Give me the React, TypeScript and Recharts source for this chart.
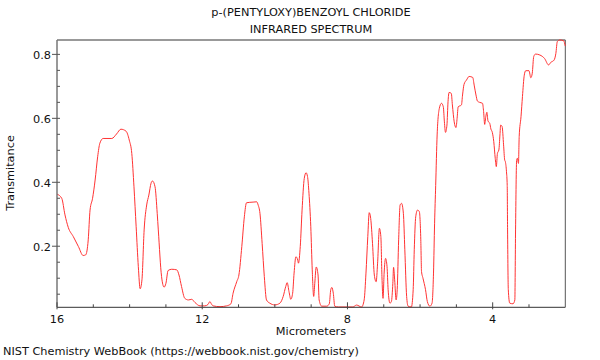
import { LineChart, Line, XAxis, YAxis, ReferenceLine } from 'recharts'

const wavelength = [
  16.0, 15.87, 15.78, 15.69, 15.55, 15.41, 15.28, 15.21, 15.14, 15.09, 15.02, 14.95, 14.88, 14.82, 14.73,
  14.49, 14.36, 14.24, 14.1, 14.01, 13.94, 13.88, 13.82, 13.76, 13.71, 13.66, 13.6, 13.53, 13.47, 13.41,
  13.37, 13.3, 13.24, 13.21, 13.12, 13.05, 13.0, 12.94, 12.84, 12.7, 12.64, 12.57, 12.48, 12.38, 12.29,
  12.2, 12.06, 11.93, 11.84, 11.79, 11.74, 11.7, 11.51, 11.33, 11.21, 11.15, 11.05, 10.99, 10.91, 10.84,
  10.78, 10.6, 10.5, 10.46, 10.41, 10.35, 10.29, 10.23, 10.14, 10.0, 9.86, 9.77, 9.7, 9.66, 9.61,
  9.56, 9.51, 9.47, 9.42, 9.37, 9.35, 9.3, 9.25, 9.19, 9.14, 9.1, 9.06, 9.01, 8.97, 8.93,
  8.9, 8.86, 8.81, 8.78, 8.71, 8.57, 8.5, 8.46, 8.43, 8.39, 8.35, 8.25, 8.0, 7.85, 7.75,
  7.61, 7.54, 7.49, 7.44, 7.4, 7.36, 7.31, 7.26, 7.21, 7.17, 7.12, 7.08, 7.05, 7.02, 6.99,
  6.95, 6.91, 6.88, 6.83, 6.79, 6.75, 6.73, 6.7, 6.66, 6.63, 6.59, 6.55, 6.51, 6.46, 6.42,
  6.37, 6.33, 6.24, 6.19, 6.16, 6.12, 6.07, 6.02, 5.98, 5.96, 5.92, 5.85, 5.8, 5.73, 5.67,
  5.63, 5.6, 5.57, 5.53, 5.47, 5.41, 5.36, 5.33, 5.3, 5.26, 5.23, 5.2, 5.14, 5.11, 5.06,
  5.01, 4.98, 4.95, 4.86, 4.83, 4.79, 4.72, 4.65, 4.55, 4.51, 4.46, 4.42, 4.36, 4.28, 4.25,
  4.22, 4.19, 4.16, 4.13, 4.08, 4.05, 4.01, 3.97, 3.93, 3.9, 3.87, 3.83, 3.8, 3.78, 3.74,
  3.7, 3.67, 3.65, 3.62, 3.6, 3.59, 3.57, 3.53, 3.44, 3.39, 3.37, 3.34, 3.32, 3.29, 3.27,
  3.22, 3.18, 3.13, 3.09, 3.0, 2.95, 2.91, 2.87, 2.82, 2.7, 2.57, 2.46, 2.4, 2.31, 2.26,
  2.22, 2.15, 2.05, 2.0,
]

const transmittance = [
  0.363, 0.35, 0.298, 0.259, 0.23, 0.199, 0.171, 0.173, 0.22, 0.313, 0.35, 0.407, 0.48, 0.522, 0.537,
  0.537, 0.551, 0.566, 0.56, 0.532, 0.49, 0.386, 0.261, 0.136, 0.067, 0.095, 0.251, 0.329, 0.36, 0.397,
  0.404, 0.386, 0.303, 0.251, 0.105, 0.072, 0.084, 0.124, 0.128, 0.126, 0.11, 0.074, 0.037, 0.032, 0.034,
  0.024, 0.0135, 0.0135, 0.018, 0.027, 0.018, 0.0135, 0.011, 0.0135, 0.02, 0.053, 0.089, 0.11, 0.199, 0.292,
  0.336, 0.338, 0.339, 0.329, 0.303, 0.209, 0.105, 0.032, 0.022, 0.0165, 0.022, 0.043, 0.074, 0.086, 0.058,
  0.034, 0.053, 0.116, 0.167, 0.157, 0.147, 0.199, 0.313, 0.412, 0.43, 0.418, 0.366, 0.261, 0.126, 0.043,
  0.084, 0.135, 0.11, 0.032, 0.0125, 0.0125, 0.02, 0.064, 0.071, 0.053, 0.0125, 0.01, 0.01, 0.01, 0.016,
  0.01, 0.032, 0.116, 0.23, 0.305, 0.287, 0.209, 0.11, 0.089, 0.147, 0.256, 0.23, 0.105, 0.037, 0.116,
  0.162, 0.136, 0.064, 0.022, 0.027, 0.084, 0.134, 0.095, 0.032, 0.064, 0.22, 0.329, 0.334, 0.303, 0.189,
  0.043, 0.0125, 0.01, 0.064, 0.189, 0.292, 0.313, 0.308, 0.22, 0.121, 0.1, 0.064, 0.027, 0.0125, 0.022,
  0.116, 0.272, 0.39, 0.548, 0.631, 0.647, 0.636, 0.589, 0.556, 0.579, 0.652, 0.681, 0.678, 0.642, 0.589,
  0.571, 0.6, 0.636, 0.642, 0.673, 0.706, 0.72, 0.731, 0.728, 0.704, 0.673, 0.654, 0.65, 0.647, 0.621,
  0.581, 0.605, 0.619, 0.592, 0.584, 0.567, 0.556, 0.527, 0.475, 0.449, 0.49, 0.501, 0.548, 0.579, 0.574,
  0.517, 0.47, 0.464, 0.433, 0.39, 0.251, 0.064, 0.022, 0.02, 0.032, 0.251, 0.47, 0.475, 0.459, 0.543,
  0.605, 0.668, 0.735, 0.749, 0.749, 0.727, 0.741, 0.793, 0.801, 0.798, 0.787, 0.767, 0.775, 0.782, 0.803,
  0.84, 0.845, 0.843, 0.826,
]

const xTicks = [16, 15, 14, 13, 12, 11, 10, 9, 8, 7, 6, 5, 4, 3, 2]
const xTickLabels = [16, 12, 8, 4]
const yTicks = [0.05, 0.1, 0.15, 0.2, 0.25, 0.3, 0.35, 0.4, 0.45, 0.5, 0.55, 0.6, 0.65, 0.7, 0.75, 0.8]
const yTickLabels = [0.2, 0.4, 0.6, 0.8]

const data = wavelength.map((w, i) => ({ w, t: transmittance[i] }))

const FONT = '"DejaVu Sans", sans-serif'
const FS = 11.3

function XTick({ x, y, payload }: any) {
  const v = payload.value
  const major = xTickLabels.includes(v)
  if (v === 2) return null
  return (
    <g>
      <line x1={x} x2={x} y1={y - (major ? 5 : 3)} y2={y + (major ? 2 : 0)} stroke="#444" />
      {major && (
        <text x={x} y={y + 16} textAnchor="middle" fontSize={FS} fontFamily={FONT} fill="#111">
          {v}
        </text>
      )}
    </g>
  )
}

function YTick({ x, y, payload }: any) {
  const v = payload.value
  const major = yTickLabels.some((l) => Math.abs(l - v) < 1e-6)
  return (
    <g>
      <line x1={major ? x - 5 : x} x2={x + 3} y1={y} y2={y} stroke="#555" />
      {major && (
        <text x={x - 6} y={y + 5} textAnchor="end" fontSize={FS} fontFamily={FONT} fill="#111">
          {v}
        </text>
      )}
    </g>
  )
}

const label = (cx: number, cy: number, extra: any = {}) => ({
  position: 'absolute' as const,
  left: cx,
  top: cy,
  transform: 'translate(-50%, -50%)',
  whiteSpace: 'nowrap' as const,
  fontFamily: FONT,
  fontSize: FS,
  lineHeight: 1,
  color: '#111',
  ...extra,
})

export default function App() {
  return (
    <div style={{ position: 'absolute', left: 0, top: 0, width: 600, height: 360, background: '#fff' }}>
      <LineChart width={600} height={360} data={data} margin={{ top: 40, right: 34.7, left: 0, bottom: 22.7 }}>
        <XAxis
          type="number"
          dataKey="w"
          domain={[2, 16]}
          reversed
          ticks={xTicks}
          interval={0}
          tickSize={0}
          tickMargin={0}
          tickLine={false}
          height={30}
          axisLine={{ stroke: '#333' }}
          tick={<XTick />}
        />
        <YAxis
          type="number"
          domain={[0.009, 0.845]}
          ticks={yTicks}
          interval={0}
          tickSize={0}
          tickMargin={0}
          tickLine={false}
          width={57}
          axisLine={{ stroke: '#777', strokeWidth: 1.5 }}
          tick={<YTick />}
        />
        <ReferenceLine y={0.845} stroke="#999" strokeWidth={2} />
        <ReferenceLine x={2} stroke="#555" />
        <Line
          type="monotone"
          dataKey="t"
          stroke="#ff3333"
          strokeWidth={1}
          dot={false}
          isAnimationActive={false}
        />
      </LineChart>
      <div style={label(311, 13)}>p-(PENTYLOXY)BENZOYL CHLORIDE</div>
      <div style={label(311, 30)}>INFRARED SPECTRUM</div>
      <div style={label(11, 173, { transform: 'translate(-50%, -50%) rotate(-90deg)' })}>Transmitance</div>
      <div style={label(311, 332)}>Micrometers</div>
      <div style={label(3, 352, { transform: 'translate(0, -50%)' })}>
        NIST Chemistry WebBook (https://webbook.nist.gov/chemistry)
      </div>
    </div>
  )
}
